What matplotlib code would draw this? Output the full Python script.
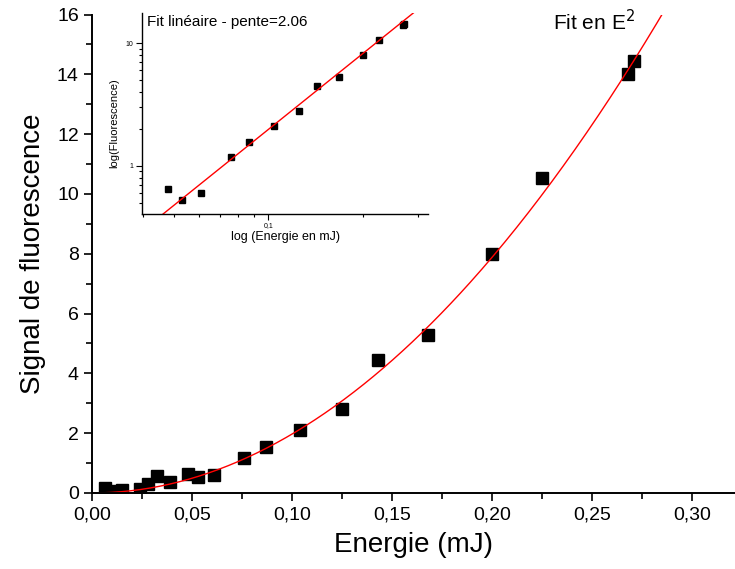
import matplotlib
matplotlib.use("Agg")
import matplotlib.pyplot as plt
import numpy as np
from matplotlib.ticker import MultipleLocator, FixedLocator, FuncFormatter, NullFormatter

plt.rcParams["font.family"] = ["Liberation Sans", "DejaVu Sans"]

# données
energie = [0.0065, 0.011, 0.015, 0.024, 0.028, 0.0325, 0.039, 0.048, 0.053, 0.061,
           0.076, 0.087, 0.104, 0.125, 0.143, 0.168, 0.200, 0.225, 0.268, 0.271]
signal = [0.18, 0.08, 0.10, 0.12, 0.29, 0.58, 0.38, 0.64, 0.52, 0.60,
          1.17, 1.55, 2.10, 2.80, 4.45, 5.30, 8.00, 10.55, 14.00, 14.45]

# fit en E^2 (échelle lin) et fit log-log (pente 2.06)
coef_e2 = 197.0
pente = 2.06
coef_log = 227.0
inset_start = 7  # points repris dans l'encart

fig = plt.figure(figsize=(7.35, 5.69), dpi=100)
ax = fig.add_axes([0.1252, 0.1336, 0.8748, 0.8408])

ax.plot(energie, signal, "s", color="black", markersize=8.5, linestyle="none")
xf = np.linspace(0, 0.29, 300)
ax.plot(xf, coef_e2 * xf ** 2, color="red", linewidth=1.0)

ax.set_xlim(0, 0.3215)
ax.set_ylim(0, 16)
ax.xaxis.set_major_locator(MultipleLocator(0.05))
ax.xaxis.set_minor_locator(MultipleLocator(0.025))
ax.yaxis.set_major_locator(MultipleLocator(2))
ax.yaxis.set_minor_locator(MultipleLocator(1))
ax.xaxis.set_major_formatter(FuncFormatter(lambda v, p: f"{v:.2f}".replace(".", ",")))
for s in ("top", "right"):
    ax.spines[s].set_visible(False)
for s in ("left", "bottom"):
    ax.spines[s].set_linewidth(1.4)
ax.tick_params(which="major", direction="out", length=6, width=1.2, labelsize=14)
ax.tick_params(which="minor", direction="out", length=4, width=1.2)
ax.set_xlabel("Energie (mJ)", fontsize=20, labelpad=6)
ax.set_ylabel("Signal de fluorescence", fontsize=20, labelpad=8)
ax.text(0.781, 0.985, "Fit en E$^2$", transform=ax.transAxes, fontsize=15,
        ha="center", va="center")

# encart log-log
axi = fig.add_axes([0.1928, 0.6239, 0.39, 0.3533])
ei = energie[inset_start:]
si = signal[inset_start:]
axi.plot(ei, si, "s", color="black", markersize=4.0, linestyle="none")
xl = np.array([0.035, 0.34])
axi.plot(xl, coef_log * xl ** pente, color="red", linewidth=1.0)
axi.set_xscale("log")
axi.set_yscale("log")
axi.set_xlim(0.0395, 0.3236)
axi.set_ylim(0.403, 17.7)
for s in ("top", "right"):
    axi.spines[s].set_visible(False)
for s in ("left", "bottom"):
    axi.spines[s].set_linewidth(1.0)
axi.xaxis.set_major_locator(FixedLocator([0.1]))
axi.xaxis.set_minor_locator(FixedLocator([0.04, 0.05, 0.06, 0.07, 0.08, 0.09, 0.2, 0.3]))
axi.xaxis.set_major_formatter(FuncFormatter(lambda v, p: "0,1"))
axi.xaxis.set_minor_formatter(NullFormatter())
axi.yaxis.set_major_locator(FixedLocator([1, 10]))
axi.yaxis.set_minor_locator(FixedLocator([0.5, 0.6, 0.7, 0.8, 0.9, 2, 3, 4, 5, 6, 7, 8, 9]))
axi.yaxis.set_major_formatter(FuncFormatter(lambda v, p: f"{v:g}"))
axi.yaxis.set_minor_formatter(NullFormatter())
axi.tick_params(which="major", direction="out", length=4, width=0.8, labelsize=5, pad=2)
axi.tick_params(which="minor", direction="out", length=2.5, width=0.8)
axi.set_xlabel("log (Energie en mJ)", fontsize=9, labelpad=1)
axi.set_ylabel("log(Fluorescence)", fontsize=8, labelpad=4)
axi.yaxis.set_label_coords(-0.08, 0.45)
axi.text(0.02, 0.955, "Fit linéaire - pente=2.06", transform=axi.transAxes,
         fontsize=11, ha="left", va="center")

fig.savefig("out.png", dpi=100)
